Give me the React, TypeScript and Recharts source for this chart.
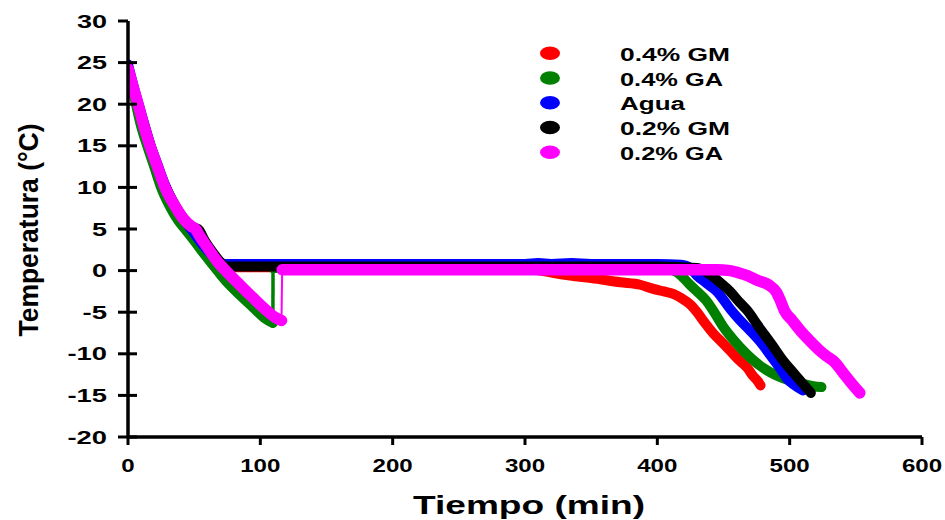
import React from "react";
import { LineChart, Line, XAxis, YAxis, Legend } from "recharts";

// cooling (before freezing) and freezing segments
const gm04CoolTime = [0, 6, 10, 15, 20, 26, 33, 40, 46, 52, 60, 68, 75];
const gm04CoolTemp = [24.2, 20.5, 18, 15.2, 12.9, 10.3, 8, 6.2, 4.8, 3.8, 2.2, 1.0, 0.4];
const gm04FreezeTime = [75, 200, 300, 315, 334, 350, 372, 387, 397, 405, 412, 418, 425, 430, 436, 442, 450, 456, 462, 468, 472, 476, 478];
const gm04FreezeTemp = [0.4, 0.4, 0.3, -0.1, -0.6, -0.9, -1.4, -1.7, -2.2, -2.5, -2.8, -3.3, -4.1, -5.0, -6.3, -7.5, -8.8, -9.8, -10.8, -11.7, -12.6, -13.3, -13.8];

const ga04CoolTime = [0, 4, 6, 10, 14.5, 20, 25, 32, 38, 43, 50, 58, 68, 76, 85, 95, 103, 109.5];
const ga04CoolTemp = [24, 21.4, 20, 17.3, 15, 12.4, 10, 7.6, 6, 5, 3.6, 1.9, -0.1, -1.6, -3, -4.5, -5.7, -6.3];
const ga04FreezeTime = [109.6, 200, 300, 400, 412, 418, 424, 430, 437, 443, 450, 458, 466, 472, 480, 490, 500, 510, 518, 524];
const ga04FreezeTemp = [0.3, 0.3, 0.3, 0.3, 0.0, -0.6, -1.6, -2.5, -3.6, -5, -6.8, -8.4, -9.8, -10.7, -11.7, -12.6, -13.2, -13.6, -13.9, -14.0];

const aguaCoolTime = [0, 4, 8, 12, 17, 22, 28, 35, 42, 48, 55, 62, 68, 72];
const aguaCoolTemp = [24.8, 22.3, 20, 17.8, 15.1, 12.9, 10.3, 8, 6.2, 4.9, 3.4, 2.1, 1.2, 0.8];
const aguaFreezeTime = [72, 150, 250, 300, 310, 320, 335, 350, 400, 418, 425, 430, 437, 445, 455, 462, 470, 478, 486, 493, 498, 504, 510];
const aguaFreezeTemp = [0.8, 0.8, 0.8, 0.8, 0.9, 0.8, 0.9, 0.8, 0.8, 0.7, 0.3, -0.6, -1.5, -2.5, -4.6, -5.9, -7.2, -8.6, -10.3, -11.8, -13, -13.8, -14.4];

const gm02CoolTime = [0, 4, 8, 12, 17, 22, 28, 35, 42, 48, 53, 58, 64, 70, 73];
const gm02CoolTemp = [24.5, 22, 19.8, 17.6, 15, 12.7, 10.2, 8, 6.3, 5.2, 5.0, 3.6, 2.2, 1.0, 0.5];
const gm02FreezeTime = [73, 200, 300, 400, 430, 440, 448, 455, 462, 468, 476, 487, 495, 503, 510, 516];
const gm02FreezeTemp = [0.5, 0.5, 0.5, 0.5, 0.3, -0.5, -1.5, -2.5, -3.8, -4.8, -6.6, -9.0, -10.8, -12.3, -13.6, -14.7];

const ga02CoolTime = [0, 4, 7.6, 12, 16.6, 22, 28, 35, 42, 48, 51, 54, 60, 67, 75, 85, 94, 104, 112, 116];
const ga02CoolTemp = [24.3, 22, 20, 17.4, 15, 12.6, 10, 7.9, 6.2, 5.3, 5.0, 4.2, 2.8, 1.2, -0.2, -1.8, -3.2, -4.7, -5.7, -6.0];
const ga02FreezeTime = [116.5, 200, 300, 400, 445, 455, 462, 468, 476, 484, 490, 493, 496, 502, 508, 515, 522, 528, 534, 540, 546, 553];
const ga02FreezeTemp = [0.1, 0.1, 0.1, 0.1, 0.1, 0.0, -0.3, -0.6, -1.2, -1.7, -2.6, -3.6, -4.8, -6.0, -7.2, -8.4, -9.5, -10.3, -11.0, -12.2, -13.4, -14.7];

const xTicks = [0, 100, 200, 300, 400, 500, 600];
const yTicks = [-20, -15, -10, -5, 0, 5, 10, 15, 20, 25, 30];

const W = 945;
const H = 520;
const PLOT_LEFT = 128;
const PLOT_TOP = 21;
const PLOT_RIGHT = 922;
const PLOT_BOTTOM = 437;
const FONT = "'Liberation Sans', Arial, sans-serif";

const zip = (t: number[], v: number[]) => t.map((x, i) => ({ t: x, T: v[i] }));

const series = [
  { key: "gm04", name: "0.4% GM", color: "#ff0000", width: 10, jumpWidth: 2, labelLen: 110, cool: zip(gm04CoolTime, gm04CoolTemp), freeze: zip(gm04FreezeTime, gm04FreezeTemp) },
  { key: "ga04", name: "0.4% GA", color: "#008000", width: 10, jumpWidth: 3.5, labelLen: 103, cool: zip(ga04CoolTime, ga04CoolTemp), freeze: zip(ga04FreezeTime, ga04FreezeTemp) },
  { key: "agua", name: "Agua", color: "#0000ff", width: 10, jumpWidth: 2, labelLen: 65, cool: zip(aguaCoolTime, aguaCoolTemp), freeze: zip(aguaFreezeTime, aguaFreezeTemp) },
  { key: "gm02", name: "0.2% GM", color: "#000000", width: 10, jumpWidth: 2, labelLen: 110, cool: zip(gm02CoolTime, gm02CoolTemp), freeze: zip(gm02FreezeTime, gm02FreezeTemp) },
  { key: "ga02", name: "0.2% GA", color: "#ff00ff", width: 11.5, jumpWidth: 2, labelLen: 103, cool: zip(ga02CoolTime, ga02CoolTemp), freeze: zip(ga02FreezeTime, ga02FreezeTemp) },
];

// the original figure is stretched sideways, so labels get a fixed textLength
const YTick = (props: any) => {
  const { y, payload } = props;
  const label = String(payload.value);
  const len = label.replace("-", "").length * 15 + (label.startsWith("-") ? 9.5 : 0);
  return (
    <g>
      <line x1={PLOT_LEFT - 10} x2={payload.value === 30 ? PLOT_LEFT : PLOT_LEFT + 9} y1={y} y2={y} stroke="#000" strokeWidth={3} />
      <text x={107} y={y} dy="0.36em" textAnchor="end" textLength={len} lengthAdjust="spacingAndGlyphs"
        fontFamily={FONT} fontWeight="bold" fontSize={18.5} fill="#000">
        {label}
      </text>
    </g>
  );
};

const XTick = (props: any) => {
  const { x, payload } = props;
  const label = String(payload.value);
  return (
    <g>
      <line x1={x} x2={x} y1={PLOT_BOTTOM} y2={PLOT_BOTTOM + 8} stroke="#000" strokeWidth={3} />
      <text x={x} y={472} textAnchor="middle" textLength={label.length * 13.4} lengthAdjust="spacingAndGlyphs"
        fontFamily={FONT} fontWeight="bold" fontSize={18.5} fill="#000">
        {label}
      </text>
    </g>
  );
};

const LegendBox = () => (
  <svg width={W} height={H} style={{ position: "absolute", left: 0, top: 0 }}>
    {series.map((s, i) => {
      const cy = 53.3 + i * 24.75;
      return (
        <g key={s.key}>
          <ellipse cx={550} cy={cy} rx={10} ry={6.8} fill={s.color} />
          <text x={620} y={cy + 7.6} textLength={s.labelLen} lengthAdjust="spacingAndGlyphs"
            fontFamily={FONT} fontWeight="bold" fontSize={17.5} fill="#000">
            {s.name}
          </text>
        </g>
      );
    })}
  </svg>
);

export default function App() {
  return (
    <div style={{ position: "absolute", left: 0, top: 0, width: W, height: H, background: "#fff" }}>
      <LineChart width={W} height={H} margin={{ top: PLOT_TOP, right: W - PLOT_RIGHT, bottom: 0, left: 0 }}>
        <XAxis type="number" dataKey="t" domain={[0, 600]} ticks={xTicks} allowDataOverflow
          height={H - PLOT_BOTTOM} tickLine={false} tick={<XTick />}
          axisLine={{ stroke: "#000", strokeWidth: 3.5 }} />
        <YAxis type="number" domain={[-20, 30]} ticks={yTicks} allowDataOverflow
          width={PLOT_LEFT} tickLine={false} tick={<YTick />}
          axisLine={{ stroke: "#000", strokeWidth: 3.5 }} />
        <Legend layout="vertical" align="center" verticalAlign="middle" content={() => <LegendBox />}
          wrapperStyle={{ position: "absolute", left: 0, top: 0, width: W, height: H, pointerEvents: "none" }} />
        {series.map((s) => [
          <Line key={s.key + "-cool"} data={s.cool} dataKey="T" type="monotone" stroke={s.color}
            strokeWidth={s.width} strokeLinecap="round" strokeLinejoin="round" dot={false} activeDot={false}
            legendType="none" isAnimationActive={false} />,
          <Line key={s.key + "-jump"} data={[s.cool[s.cool.length - 1], s.freeze[0]]} dataKey="T" type="linear"
            stroke={s.color} strokeWidth={s.jumpWidth} dot={false} activeDot={false}
            legendType="none" isAnimationActive={false} />,
          <Line key={s.key + "-freeze"} data={s.freeze} dataKey="T" type="monotone" stroke={s.color}
            strokeWidth={s.width} strokeLinecap="round" strokeLinejoin="round" dot={false} activeDot={false}
            name={s.name} isAnimationActive={false} />,
        ])}
      </LineChart>
      <svg width={W} height={H} style={{ position: "absolute", left: 0, top: 0, pointerEvents: "none" }}>
        <text x={529} y={514} textAnchor="middle" textLength={232} lengthAdjust="spacingAndGlyphs"
          fontFamily={FONT} fontWeight="bold" fontSize={26} fill="#000">
          Tiempo (min)
        </text>
        <text transform="translate(38,230) rotate(-90)" textAnchor="middle" textLength={213} lengthAdjust="spacingAndGlyphs"
          fontFamily={FONT} fontWeight="bold" fontSize={27} fill="#000">
          Temperatura (°C)
        </text>
      </svg>
    </div>
  );
}
